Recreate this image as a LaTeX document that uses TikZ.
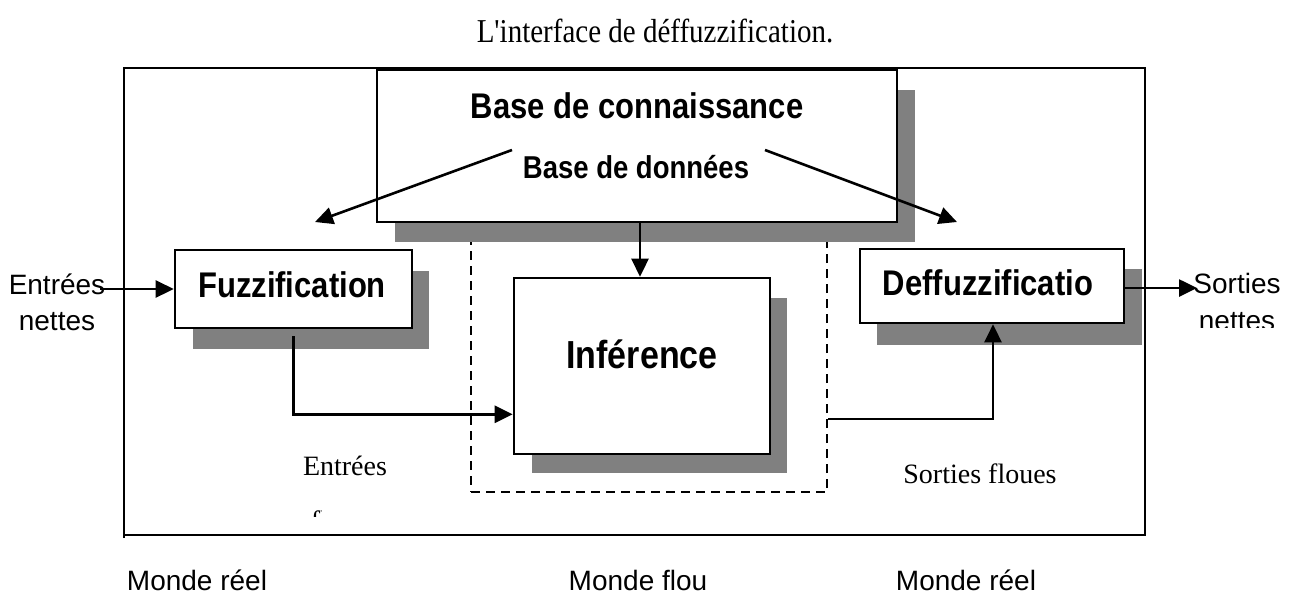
\documentclass[tikz,border=0pt]{standalone}
\usepackage{fontspec}
\setmainfont{Liberation Serif}
\newfontfamily\arialf{Liberation Sans}
\usetikzlibrary{arrows.meta,calc}
\definecolor{shadowgray}{HTML}{808080}
\tikzset{
  box/.style={draw=black, line width=2.6pt, fill=white, inner sep=0pt},
  shade/.style={fill=shadowgray, draw=none},
  arr/.style={line width=2.6pt, -{Triangle[length=18pt,width=17pt]}},
  boldlab/.style={font=\arialf\bfseries\fontsize{31}{36}\selectfont, inner sep=0pt, anchor=base},
  seriflab/.style={font=\fontsize{28}{32}\selectfont, inner sep=0pt, anchor=base},
  sanslab/.style={font=\arialf\fontsize{28}{32}\selectfont, inner sep=0pt, anchor=base},
}
\newcommand{\tallt}[1]{\scalebox{1}[1.15]{#1}}
\begin{document}
\begin{tikzpicture}[x=1pt,y=-1pt]
\useasboundingbox (0,0) rectangle (1298,606);

% title
\node[seriflab, font=\fontsize{29}{32}\selectfont] (title) at (655,42) {\tallt{L\textquotesingle interface de déffuzzification.}};

% outer frame
\draw[line width=2.6pt] (124,538) -- (124,68) -- (1145,68) -- (1145,535) -- (124,535);

% dashed region (fuzzy world)
\node[draw=black, line width=2.2pt, dash pattern=on 9pt off 6pt, minimum width=356pt, minimum height=252pt, inner sep=0pt] (flou) at (649,366) {};

% shadows
\fill[shade] (395,90) rectangle (915,242);
\fill[shade] (193,271) rectangle (429,349);
\fill[shade] (532,298) rectangle (787,473);
\fill[shade] (877,269) rectangle (1142,345);

% boxes
\node[box, minimum width=520pt, minimum height=152pt] (base) at (637,146) {};
\node[box, minimum width=237pt, minimum height=78pt] (fuzz) at (293.5,289) {};
\node[box, minimum width=256pt, minimum height=176pt] (inf) at (642,366) {};
\node[box, minimum width=264pt, minimum height=74pt] (def) at (992,286) {};

% box texts
\node[boldlab] (baseT) at (637,118) {\tallt{Base de connaissance}};
\node[boldlab, font=\arialf\bfseries\fontsize{27.5}{32}\selectfont] (baseD) at (636,178) {\tallt{Base de données}};
\node[boldlab] (fuzzT) at (292,297) {\tallt{Fuzzification}};
\node[boldlab] (defT) at (988,295) {\tallt{Deffuzzificatio}};
\node[boldlab, font=\arialf\bfseries\fontsize{34}{38}\selectfont] (infT) at (642,368) {\tallt{Inférence}};

% arrows from knowledge base
\coordinate (bl1) at (512,150);
\coordinate (bl2) at (315,222);
\coordinate (br1) at (765,150);
\coordinate (br2) at (957,222);
\draw[arr] (bl1) -- (bl2);
\draw[arr] (br1) -- (br2);
\draw[arr] (base.south -| 640,0) -- (inf.north -| 640,0);

% fuzzification -> inference
\draw[arr] ([yshift=-7pt]fuzz.south) |- ([yshift=41pt]inf.south west);
% inference region -> defuzzification
\draw[arr] ([yshift=74pt]flou.south east) -| ([xshift=1pt]def.south);

% inputs / outputs
\node[sanslab] (inA) at (57,294) {Entrées};
\node[sanslab] (inB) at (57,330) {nettes};
\coordinate (inS) at (100,289);
\draw[arr] (inS) -- (fuzz.west);

\coordinate (outE) at (1197,288);
\draw[arr] (def.east |- outE) -- (outE);
\node[sanslab] (outA) at (1237,293) {Sorties};
\begin{scope}
\clip (1150,300) rectangle (1298,327);
\node[sanslab] (outB) at (1237,330) {nettes};
\end{scope}

% fuzzy labels
\node[seriflab] (fin) at (345,475) {Entrées};
\begin{scope}
\clip (305,500) rectangle (321,516);
\node[seriflab] (finB) at (345,530) {floues};
\end{scope}
\node[seriflab] (fout) at (980,483) {Sorties floues};

% worlds
\node[sanslab] (m1) at (197,590) {Monde réel};
\node[sanslab] (m2) at (638,590) {Monde flou};
\node[sanslab] (m3) at (966,590) {Monde réel};
\end{tikzpicture}
\end{document}
